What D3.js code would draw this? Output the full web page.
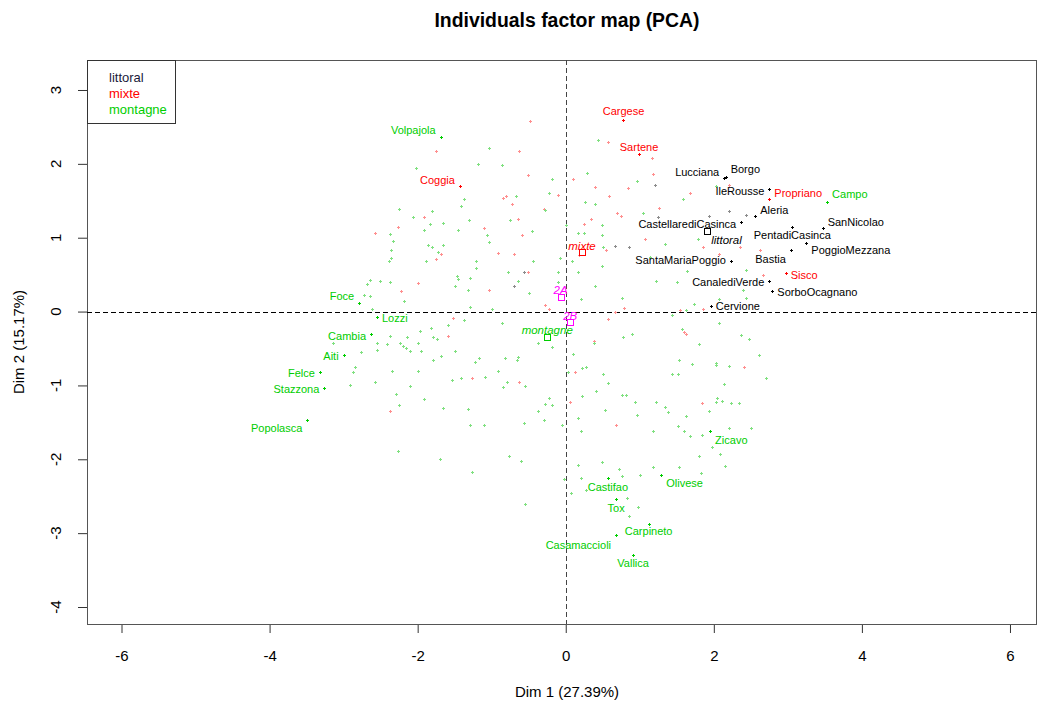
<!DOCTYPE html>
<html>
<head>
<meta charset="utf-8">
<script src="https://cdn.jsdelivr.net/npm/d3@7"></script>
<style>
  body { margin: 0; background: #fff; }
  svg { font-family: "Liberation Sans", Arial, sans-serif; display: block; }
</style>
</head>
<body>
<div id="target"></div>
<script>
const title = 'Individuals factor map (PCA)';
const xLabel = 'Dim 1 (27.39%)';
const yLabel = 'Dim 2 (15.17%)';
const xTicks = [-6, -4, -2, 0, 2, 4, 6];
const yTicks = [-4, -3, -2, -1, 0, 1, 2, 3];
const groups = ['littoral', 'mixte', 'montagne'];

// labelled individuals: [name, x, y]
const littoralLabeled = [
  ['Lucciana', 2.14, 1.81], ['Borgo', 2.16, 1.82], ['IleRousse', 2.75, 1.66],
  ['Aleria', 2.56, 1.29], ['CastellarediCasinca', 2.37, 1.21], ['PentadiCasinca', 3.06, 1.15],
  ['SanNicolao', 3.47, 1.13], ['PoggioMezzana', 3.25, 0.93], ['Bastia', 3.04, 0.83],
  ['SantaMariaPoggio', 2.23, 0.69], ['CanalediVerde', 2.75, 0.42], ['SorboOcagnano', 2.79, 0.28],
  ['Cervione', 1.96, 0.07]
];
const mixteLabeled = [
  ['Cargese', 0.78, 2.59], ['Sartene', 0.99, 2.14], ['Coggia', -1.43, 1.70],
  ['Propriano', 2.75, 1.52], ['Sisco', 2.97, 0.52]
];
const montagneLabeled = [
  ['Volpajola', -1.69, 2.37], ['Campo', 3.53, 1.49], ['Foce', -2.79, 0.11],
  ['Lozzi', -2.55, -0.08], ['Cambia', -2.63, -0.30], ['Aiti', -3.00, -0.59],
  ['Felce', -3.32, -0.82], ['Stazzona', -3.26, -1.04], ['Popolasca', -3.49, -1.47],
  ['Zicavo', 1.95, -1.62], ['Olivese', 1.29, -2.21], ['Castifao', 0.57, -2.25],
  ['Tox', 0.68, -2.54], ['Carpineto', 1.12, -2.87], ['Casamaccioli', 0.68, -3.03],
  ['Vallica', 0.91, -3.29]
];

// other individuals: [x, y]
const littoralOther = [
  [1.20, 1.72], [1.94, 1.29], [2.20, 1.36], [2.43, 1.31], [1.24, 1.28],
  [0.67, 0.89], [0.85, 0.88], [-0.56, 0.53], [-0.70, 0.34]
];
const mixteOther = [
  [-1.75, 2.17], [-0.63, 2.17], [-0.48, 2.58], [-0.51, 1.85], [-0.85, 1.54], [-0.81, 1.57],
  [-0.73, 1.45], [-0.11, 1.58], [-0.30, 1.39], [-1.92, 1.28], [-0.64, 1.26], [-2.58, 1.07],
  [-2.26, 1.15], [-1.11, 1.13], [-0.59, 1.03], [-1.68, 0.78], [-0.91, 0.79], [-0.70, 0.78],
  [-1.75, 0.71], [-2.00, 0.39], [-2.23, 0.28], [-1.04, 0.29], [-0.51, 0.53], [-0.28, 0.09],
  [-0.23, 0.04], [-1.52, -0.09], [-1.59, -0.33], [-1.26, -0.90], [-0.63, -0.95], [-2.38, -1.34],
  [0.57, 2.30], [1.16, 2.08], [0.10, 1.80], [1.18, 1.86], [0.40, 1.69], [0.84, 1.67],
  [0.58, 1.56], [1.68, 1.61], [1.26, 1.40], [0.69, 1.33], [0.74, 1.30], [0.34, 1.25],
  [0.25, 1.18], [1.07, 0.98], [1.85, 0.87], [2.20, 1.72], [2.35, 0.87], [2.62, 0.83],
  [0.18, 0.77], [0.55, 0.84], [2.67, 0.50], [1.85, 0.04], [0.57, -0.10], [0.66, -0.01],
  [0.79, 0.05], [1.54, 0.02], [1.62, 0.02], [0.38, -0.40], [1.60, -0.27], [1.63, -0.31],
  [2.41, -0.75], [0.13, -0.82], [1.84, -1.24], [0.06, -1.23], [0.68, -1.54], [2.07, 0.78]
];
const montagneOther = [
  [-1.03, 2.21], [-2.02, 1.95], [-1.19, 2.00], [-0.86, 1.98], [-0.18, 1.80], [-1.38, 1.52],
  [-1.42, 1.43], [-0.67, 1.57], [-0.23, 1.61], [-0.28, 1.37], [-2.25, 1.39], [-1.80, 1.36],
  [-2.06, 1.28], [-1.30, 1.24], [-0.75, 1.24], [-1.92, 1.11], [-1.84, 1.18], [-1.66, 1.20],
  [-1.45, 1.11], [-2.37, 1.05], [-1.07, 1.03], [-0.45, 1.09], [-2.33, 0.95], [-1.03, 0.94],
  [-2.36, 0.83], [-1.86, 0.90], [-1.81, 0.88], [-1.66, 0.90], [-1.73, 0.80], [-2.39, 0.69],
  [-2.36, 0.72], [-1.89, 0.69], [-1.21, 0.69], [-1.21, 0.59], [-0.44, 0.69], [-0.08, 0.72],
  [-2.69, 0.37], [-2.65, 0.43], [-2.51, 0.41], [-2.38, 0.40], [-2.73, 0.22], [-2.65, 0.21],
  [-2.18, 0.14], [-2.61, 0.04], [-1.49, 0.35], [-1.32, 0.29], [-1.45, 0.44], [-1.47, 0.48],
  [-1.29, 0.45], [-0.78, 0.54], [-0.64, 0.42], [-0.49, 0.25], [-0.11, 0.54], [-0.10, 0.40],
  [-1.29, 0.06], [-0.99, 0.03], [-2.38, -0.33], [-2.15, -0.34], [-1.97, -0.26], [-1.82, -0.22],
  [-1.79, -0.35], [-1.74, -0.37], [-1.38, -0.12], [-1.59, -0.18], [-0.86, -0.16], [-2.55, -0.42],
  [-2.41, -0.44], [-2.24, -0.42], [-2.20, -0.46], [-2.16, -0.49], [-2.10, -0.53], [-2.00, -0.42],
  [-1.96, -0.53], [-2.55, -0.52], [-3.14, -0.42], [-2.77, -0.55], [-1.49, -0.53], [-1.68, -0.60],
  [-1.79, -0.66], [-1.23, -0.68], [-1.17, -0.63], [-0.82, -0.63], [-0.64, -0.61], [-0.66, -0.66],
  [-0.37, -0.43], [-0.19, -0.48], [-2.85, -0.75], [-2.88, -0.82], [-2.35, -0.81], [-1.99, -0.81],
  [-2.57, -0.96], [-2.92, -1.00], [-2.11, -1.01], [-1.54, -0.92], [-1.41, -0.90], [-1.09, -0.89],
  [-0.92, -0.81], [-0.80, -0.95], [-0.55, -1.01], [-0.85, -1.02], [-2.29, -1.12], [-1.92, -1.18],
  [-2.25, -1.27], [-1.66, -1.30], [-1.32, -1.32], [-0.22, -1.17], [-0.28, -1.25], [-0.18, -1.26],
  [-0.37, -1.35], [-1.29, -1.53], [-1.11, -1.54], [-0.56, -1.51], [-0.30, -1.47], [-0.05, -1.54],
  [-2.26, -1.89], [-1.70, -1.99], [-0.77, -1.95], [-0.60, -2.02], [-1.26, -2.17], [-0.02, -2.27],
  [-0.55, -2.60], [0.44, 2.32], [0.29, 1.88], [0.96, 1.77], [1.59, 1.52], [0.26, 1.48],
  [0.39, 1.46], [1.05, 1.34], [0.49, 1.17], [0.01, 1.17], [0.17, 1.07], [0.25, 1.07],
  [0.49, 1.03], [1.34, 0.92], [0.50, 0.88], [1.79, 0.98], [2.03, 1.70], [1.64, 0.55],
  [2.44, 0.56], [2.39, 0.29], [2.44, 0.18], [2.07, 0.17], [1.73, 0.10], [1.62, 0.02],
  [2.07, -0.16], [0.09, 0.69], [0.49, 0.62], [0.17, 0.54], [1.14, 0.74], [1.22, 0.41],
  [1.50, 0.40], [0.39, 0.34], [0.20, 0.17], [0.76, 0.18], [1.43, -0.05], [0.10, -0.57],
  [0.38, -0.43], [0.89, -0.30], [0.77, -0.35], [1.57, -0.24], [1.80, -0.44], [2.37, -0.32],
  [2.48, -0.37], [2.61, -0.59], [2.03, -0.69], [2.03, -0.73], [1.71, -0.71], [1.53, -0.66],
  [1.51, -0.84], [1.43, -0.84], [2.20, -0.74], [2.70, -0.90], [2.14, -0.98], [0.03, -0.82],
  [0.22, -0.77], [0.28, -0.75], [0.50, -0.84], [0.57, -0.97], [0.41, -1.08], [0.76, -1.13],
  [0.81, -1.13], [0.22, -1.14], [1.22, -1.22], [0.94, -1.23], [1.34, -1.29], [1.38, -1.36],
  [2.03, -1.22], [2.11, -1.21], [2.23, -1.24], [2.34, -1.24], [2.04, -1.17], [1.93, -1.34],
  [0.53, -1.33], [0.96, -1.40], [1.62, -1.42], [0.17, -1.44], [0.21, -1.62], [1.18, -1.62],
  [1.51, -1.55], [1.60, -1.62], [1.68, -1.68], [1.84, -1.67], [2.20, -1.57], [2.50, -1.57],
  [1.98, -1.84], [1.80, -1.95], [2.09, -1.93], [2.15, -2.09], [0.17, -2.08], [0.49, -2.04],
  [0.72, -2.13], [0.76, -2.22], [1.00, -2.21], [1.18, -2.11], [1.53, -2.10], [1.83, -2.18],
  [0.21, -2.26], [0.07, -2.46], [0.28, -2.42], [0.83, -2.52], [0.98, -2.65], [0.85, -2.77]
];

// supplementary categories: [name, x, y]
const groupCenters = [['littoral', 1.91, 1.09], ['mixte', 0.22, 0.80], ['montagne', -0.25, -0.35]];
const deptCenters = [['2A', -0.07, 0.20], ['2B', 0.06, -0.14]];

// label layout (side, vertical shift in px)
const labelPlace = {
  Volpajola: ['l', -6], Foce: ['l', -7], Lozzi: ['r', 1], Cambia: ['l', 2], Aiti: ['l', 1],
  Felce: ['l', 1], Stazzona: ['l', 1], Popolasca: ['l', 8], Zicavo: ['r', 9], Olivese: ['r', 8],
  Castifao: ['c', 9], Tox: ['c', 9], Carpineto: ['c', 8], Casamaccioli: ['l', 10], Vallica: ['c', 9],
  Campo: ['r', -7], Cargese: ['c', -9], Sartene: ['c', -6], Coggia: ['l', -6], Propriano: ['r', -6],
  Sisco: ['r', 2], Lucciana: ['l', -6], Borgo: ['r', -8], IleRousse: ['l', 2], Aleria: ['r', -6],
  CastellarediCasinca: ['l', 2], PentadiCasinca: ['c', 9], PoggioMezzana: ['r', 7],
  SanNicolao: ['r', -6], Bastia: ['l', 9], SantaMariaPoggio: ['l', 0], CanalediVerde: ['l', 2],
  SorboOcagnano: ['r', 1], Cervione: ['r', 0],
  littoral: ['r', 9], mixte: ['c', -7], montagne: ['c', -7], '2A': ['c', -7], '2B': ['c', -6]
};

const colors = {littoral: '#000000', mixte: '#FF0000', montagne: '#00CD00', dept: '#FF00FF'};
const faint = {littoral: '#8C8C8C', mixte: '#FF8F8F', montagne: '#80E080'};

const width = 1038;
const height = 702;
const margin = {top: 60, right: 1, bottom: 78, left: 87};

const svg = d3.select('#target')
  .append('svg')
  .attr('width', width)
  .attr('height', height);

const x = d3.scaleLinear()
  .domain([-6.466, 6.365])
  .range([margin.left, width - margin.right]);
const y = d3.scaleLinear()
  .domain([-4.23, 3.406])
  .range([height - margin.bottom, margin.top]);

// title
svg.append('text')
  .attr('x', 567).attr('y', 27)
  .attr('text-anchor', 'middle')
  .style('font-size', '19.4px').style('font-weight', 'bold')
  .text(title);

// axes (plain hyphen for negatives, like R)
const fmt = (d) => String(d);
const xAxis = svg.append('g')
  .attr('transform', `translate(0,${height - margin.bottom})`)
  .call(d3.axisBottom(x).tickValues(xTicks).tickSize(9).tickPadding(17).tickFormat(fmt));
const yAxis = svg.append('g')
  .attr('transform', `translate(${margin.left},0)`)
  .call(d3.axisLeft(y).tickValues(yTicks).tickSize(9).tickFormat(fmt));
[xAxis, yAxis].forEach((a) => {
  a.select('.domain').remove();
  a.selectAll('line').attr('stroke', '#333');
  a.selectAll('text').style('font-size', '15px').attr('fill', '#000')
    .style('font-family', '"Liberation Sans", Arial, sans-serif');
});
yAxis.selectAll('text')
  .attr('x', null).attr('dy', null)
  .attr('text-anchor', 'middle')
  .attr('transform', (d) => `translate(-31,${y(d)}) rotate(-90)`)
  .attr('y', 0).attr('dy', '0.35em');
yAxis.selectAll('.tick').attr('transform', null);
yAxis.selectAll('.tick line').attr('y1', (d) => y(d) + 0.5).attr('y2', (d) => y(d) + 0.5).attr('x2', -9);

svg.append('text')
  .attr('x', 567).attr('y', 697)
  .attr('text-anchor', 'middle')
  .style('font-size', '15px')
  .text(xLabel);
svg.append('text')
  .attr('transform', `translate(24,342) rotate(-90)`)
  .attr('text-anchor', 'middle')
  .style('font-size', '15px')
  .text(yLabel);

// plot box
svg.append('rect')
  .attr('x', margin.left + 0.5).attr('y', margin.top + 0.5)
  .attr('width', width - margin.left - margin.right - 1)
  .attr('height', height - margin.top - margin.bottom)
  .attr('fill', 'none').attr('stroke', '#555');

// zero lines
svg.append('line')
  .attr('x1', margin.left).attr('x2', width - margin.right)
  .attr('y1', Math.round(y(0)) + 0.5).attr('y2', Math.round(y(0)) + 0.5)
  .attr('stroke', '#000').attr('stroke-dasharray', '5,3');
svg.append('line')
  .attr('x1', Math.round(x(0)) + 0.5).attr('x2', Math.round(x(0)) + 0.5)
  .attr('y1', margin.top).attr('y2', height - margin.bottom)
  .attr('stroke', '#444').attr('stroke-dasharray', '5,3');

const plus = 'M-1.5,0H1.5M0,-1.5V1.5';
const dots = svg.append('g').attr('class', 'dots');

const others = {littoral: littoralOther, mixte: mixteOther, montagne: montagneOther};
groups.forEach((gname) => {
  dots.selectAll(`.o-${gname}`)
    .data(others[gname])
    .enter().append('path')
    .attr('d', plus)
    .attr('transform', (d) => `translate(${Math.round(x(d[0])) + 0.5},${Math.round(y(d[1])) + 0.5})`)
    .attr('stroke', faint[gname]).attr('stroke-width', 1).attr('fill', 'none');
});

const labeled = {littoral: littoralLabeled, mixte: mixteLabeled, montagne: montagneLabeled};
const labels = svg.append('g').attr('class', 'labels').style('font-size', '11px');

function placeLabel(sel, name, px, py, gap) {
  const p = labelPlace[name] || ['c', -7];
  const anchor = p[0] === 'l' ? 'end' : p[0] === 'r' ? 'start' : 'middle';
  const dx = p[0] === 'l' ? -gap : p[0] === 'r' ? gap : 0;
  sel.attr('x', px + dx).attr('y', py + p[1])
    .attr('dy', '0.35em').attr('text-anchor', anchor);
}

groups.forEach((gname) => {
  labeled[gname].forEach((d) => {
    const px = x(d[1]), py = y(d[2]);
    dots.append('path')
      .attr('d', plus)
      .attr('transform', `translate(${Math.round(px) + 0.5},${Math.round(py) + 0.5})`)
      .attr('stroke', colors[gname]).attr('stroke-width', 1).attr('fill', 'none');
    labels.append('text')
      .attr('fill', colors[gname])
      .text(d[0])
      .call(placeLabel, d[0], px, py, 5);
  });
});

// supplementary category centres
function drawCentre(d, col) {
  const px = x(d[1]), py = y(d[2]);
  svg.append('rect')
    .attr('x', Math.round(px) - 2.5).attr('y', Math.round(py) - 2.5)
    .attr('width', 6).attr('height', 6)
    .attr('fill', 'none').attr('stroke', col);
  labels.append('text')
    .attr('fill', col)
    .style('font-style', 'italic')
    .style('font-size', '11.5px')
    .text(d[0])
    .call(placeLabel, d[0], px, py, 4);
}
groupCenters.forEach((d) => drawCentre(d, colors[d[0]]));
deptCenters.forEach((d) => drawCentre(d, colors.dept));

// legend
const legend = svg.append('g');
legend.append('rect')
  .attr('x', margin.left + 0.5).attr('y', margin.top + 0.5)
  .attr('width', 88).attr('height', 63)
  .attr('fill', '#fff').attr('stroke', '#333');
legend.selectAll('text')
  .data(groups)
  .enter().append('text')
  .attr('x', 109)
  .attr('y', (d, i) => 77 + i * 16)
  .attr('dy', '0.35em')
  .style('font-size', '13px')
  .attr('fill', (d) => d === 'littoral' ? '#1a1a3a' : colors[d])
  .text((d) => d);
</script>
</body>
</html>
